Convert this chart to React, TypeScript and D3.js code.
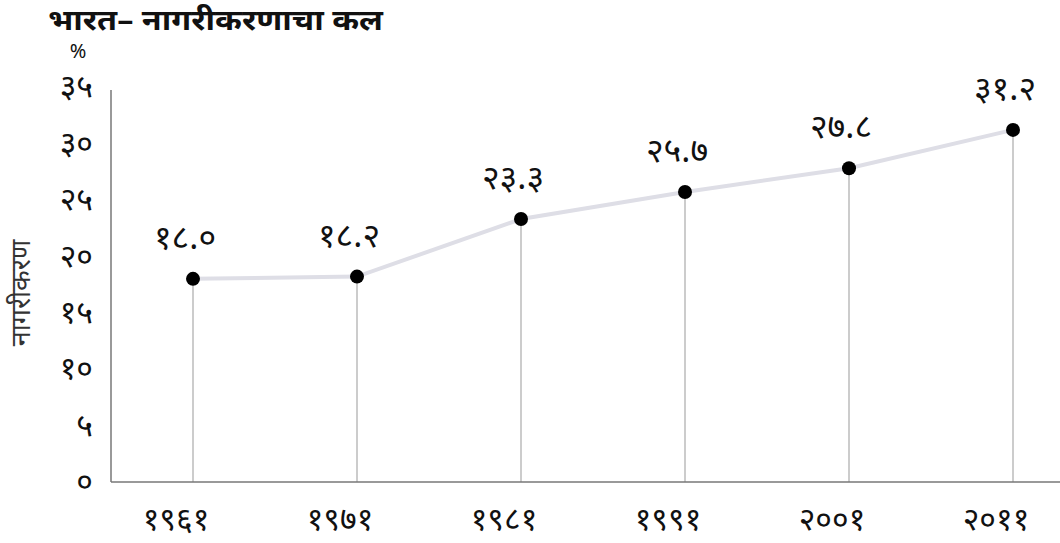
import React from "react";
import * as d3 from "d3";

const years = ["1961", "1971", "1981", "1991", "2001", "2011"];
const urbanShare = [18.0, 18.2, 23.3, 25.7, 27.8, 31.2];
const yTicks = [0, 5, 10, 15, 20, 25, 30, 35];

const title = "भारत– नागरीकरणाचा कल";
const yLabel = "नागरीकरण";

const devDigits = "०१२३४५६७८९";
const toDev = (s: string) => s.replace(/[0-9]/g, (c) => devDigits[+c]);

const font = "'Noto Sans', 'Noto Sans Devanagari', sans-serif";

export default function App() {
  const width = 1060;
  const height = 543;
  const margin = { top: 87, right: -35, bottom: 61, left: 111 };

  const x = d3
    .scaleBand()
    .domain(years)
    .range([margin.left, width - margin.right]);

  const y = d3
    .scaleLinear()
    .domain([0, 35])
    .range([height - margin.bottom, margin.top]);

  const cx = (d: string) => (x(d) ?? 0) + x.bandwidth() / 2;

  const pts = years.map((yr, i) => ({ yr, v: urbanShare[i] }));

  const line = d3
    .line<{ yr: string; v: number }>()
    .x((d) => cx(d.yr))
    .y((d) => y(d.v));

  const y0 = y(0);

  return (
    <svg
      width={width}
      height={height}
      style={{ position: "absolute", left: 0, top: 0, background: "#fff" }}
      fontFamily={font}
    >
      {/* title */}
      <text x={48} y={30} fontSize={28} fontWeight="bold" fill="#111" textLength={335} lengthAdjust="spacingAndGlyphs">
        {title}
      </text>
      <text x={78} y={58} fontSize={20} textAnchor="middle" fill="#111">
        %
      </text>

      {/* y axis label */}
      <text
        transform={`translate(30,${293}) rotate(-90)`}
        textAnchor="middle"
        fontSize={27}
        fill="#333"
      >
        {yLabel}
      </text>

      {/* y ticks */}
      {yTicks.map((t) => (
        <text
          key={t}
          x={93}
          y={y(t)}
          dy="0.32em"
          textAnchor="end"
          fontSize={32}
          fill="#111"
        >
          {toDev(String(t))}
        </text>
      ))}

      {/* drop lines */}
      {pts.map((d) => (
        <line
          key={"v" + d.yr}
          x1={cx(d.yr)}
          x2={cx(d.yr)}
          y1={y(d.v)}
          y2={y0}
          stroke="#aaa"
          strokeWidth={1.2}
        />
      ))}

      {/* axes */}
      <line x1={margin.left} x2={margin.left} y1={margin.top + 3} y2={y0} stroke="#777" strokeWidth={1.5} />
      <line x1={margin.left} x2={width} y1={y0} y2={y0} stroke="#777" strokeWidth={1.5} />

      {/* trend line */}
      <path d={line(pts) ?? ""} fill="none" stroke="#dedee6" strokeWidth={4} />

      {pts.map((d) => (
        <circle key={"c" + d.yr} cx={cx(d.yr)} cy={y(d.v)} r={7} fill="#000" />
      ))}

      {/* value labels */}
      {pts.map((d) => (
        <text
          key={"l" + d.yr}
          x={cx(d.yr) - 8}
          y={y(d.v) - 30}
          textAnchor="middle"
          fontSize={34}
          fill="#111"
        >
          {toDev(d.v.toFixed(1))}
        </text>
      ))}

      {/* x labels */}
      {years.map((yr) => (
        <text
          key={"x" + yr}
          x={cx(yr) - 17}
          y={530}
          textAnchor="middle"
          fontSize={32}
          fill="#111"
        >
          {toDev(yr)}
        </text>
      ))}
    </svg>
  );
}
